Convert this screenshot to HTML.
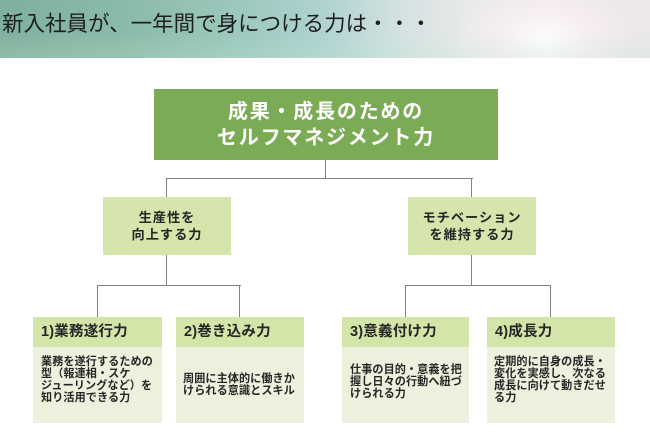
<!DOCTYPE html>
<html>
<head>
<meta charset="utf-8">
<style>
  html,body{margin:0;padding:0;}
  body{width:650px;height:447px;position:relative;overflow:hidden;background:#fff;
    font-family:"Liberation Sans","Noto Sans CJK JP",sans-serif;}
  .band{position:absolute;left:0;top:0;width:650px;height:58px;
    background:
      radial-gradient(ellipse 90px 60px at 545px 42px, rgba(255,255,255,0.95) 0%, rgba(252,242,244,0.6) 50%, rgba(248,236,238,0) 100%),
      linear-gradient(to right,#7faf9d 0%,#8bbba9 20%,#9ec9bf 38%,#b0d3d2 50%,#d4e2e1 62%,#eaeaea 72%,#efe9ea 85%,#ece8e9 100%);}
  .band2{position:absolute;left:0;top:0;width:650px;height:58px;
    background:linear-gradient(to bottom,rgba(255,255,255,0) 0%,rgba(255,255,255,0) 55%,rgba(190,230,210,0.25) 100%);}
  .title{position:absolute;left:2px;top:10px;font-size:21.5px;line-height:28px;color:#1e1e1e;white-space:nowrap;letter-spacing:0px;}
  .ln{position:absolute;background:#808080;}
  .top{position:absolute;left:154px;top:89px;width:344px;height:71px;background:#7cab56;
    color:#fff;font-weight:bold;font-size:20px;line-height:26px;letter-spacing:1.8px;text-align:center;
    display:flex;flex-direction:column;justify-content:center;}
  .l2{position:absolute;top:197px;width:128px;height:58px;background:#d6e5ab;color:#262626;
    font-weight:bold;font-size:13.2px;line-height:17px;letter-spacing:1px;text-align:center;
    display:flex;flex-direction:column;justify-content:center;}
  .hd{position:absolute;top:317px;height:30px;background:#d4e5aa;color:#262626;font-weight:bold;
    font-size:14.5px;line-height:30px;padding-left:8px;box-sizing:border-box;letter-spacing:0.2px;white-space:nowrap;}
  .bd{position:absolute;top:347px;height:76px;background:#ebf1dc;}
  .tx{position:absolute;color:#262626;font-weight:bold;font-size:11.1px;line-height:12px;letter-spacing:0.1px;white-space:nowrap;}
</style>
</head>
<body>
<div class="band"></div>
<div class="band2"></div>
<div class="title">新入社員が、一年間で身につける力は・・・</div>

<div class="top"><div>成果・成長のための</div><div>セルフマネジメント力</div></div>

<!-- connectors level 1 -->
<div class="ln" style="left:325px;top:160px;width:1.4px;height:19px;"></div>
<div class="ln" style="left:166px;top:178px;width:307px;height:1.4px;"></div>
<div class="ln" style="left:166px;top:178px;width:1.4px;height:19px;"></div>
<div class="ln" style="left:471px;top:178px;width:1.4px;height:19px;"></div>

<div class="l2" style="left:103px;"><div>生産性を</div><div>向上する力</div></div>
<div class="l2" style="left:408px;"><div>モチベーション</div><div>を維持する力</div></div>

<!-- connectors level 2 left -->
<div class="ln" style="left:166px;top:255px;width:1.4px;height:31px;"></div>
<div class="ln" style="left:97px;top:285px;width:144px;height:1.4px;"></div>
<div class="ln" style="left:97px;top:285px;width:1.4px;height:32px;"></div>
<div class="ln" style="left:239px;top:285px;width:1.4px;height:32px;"></div>
<!-- connectors level 2 right -->
<div class="ln" style="left:471px;top:255px;width:1.4px;height:31px;"></div>
<div class="ln" style="left:405px;top:285px;width:146px;height:1.4px;"></div>
<div class="ln" style="left:405px;top:285px;width:1.4px;height:32px;"></div>
<div class="ln" style="left:550px;top:285px;width:1.4px;height:32px;"></div>

<!-- box 1 -->
<div class="hd" style="left:33px;width:129px;">1)業務遂行力</div>
<div class="bd" style="left:33px;width:129px;"></div>
<div class="tx" style="left:41px;top:356px;">業務を遂行するための<br>型（報連相・スケ<br>ジューリングなど）を<br>知り活用できる力</div>

<!-- box 2 -->
<div class="hd" style="left:176px;width:128px;">2)巻き込み力</div>
<div class="bd" style="left:176px;width:128px;"></div>
<div class="tx" style="left:183px;top:373px;">周囲に主体的に働きか<br>けられる意識とスキル</div>

<!-- box 3 -->
<div class="hd" style="left:342px;width:127px;">3)意義付け力</div>
<div class="bd" style="left:342px;width:127px;"></div>
<div class="tx" style="left:350px;top:364px;">仕事の目的・意義を把<br>握し日々の行動へ紐づ<br>けられる力</div>

<!-- box 4 -->
<div class="hd" style="left:487px;width:128px;">4)成長力</div>
<div class="bd" style="left:487px;width:128px;"></div>
<div class="tx" style="left:494px;top:356px;">定期的に自身の成長・<br>変化を実感し、次なる<br>成長に向けて動きだせ<br>る力</div>
</body>
</html>
